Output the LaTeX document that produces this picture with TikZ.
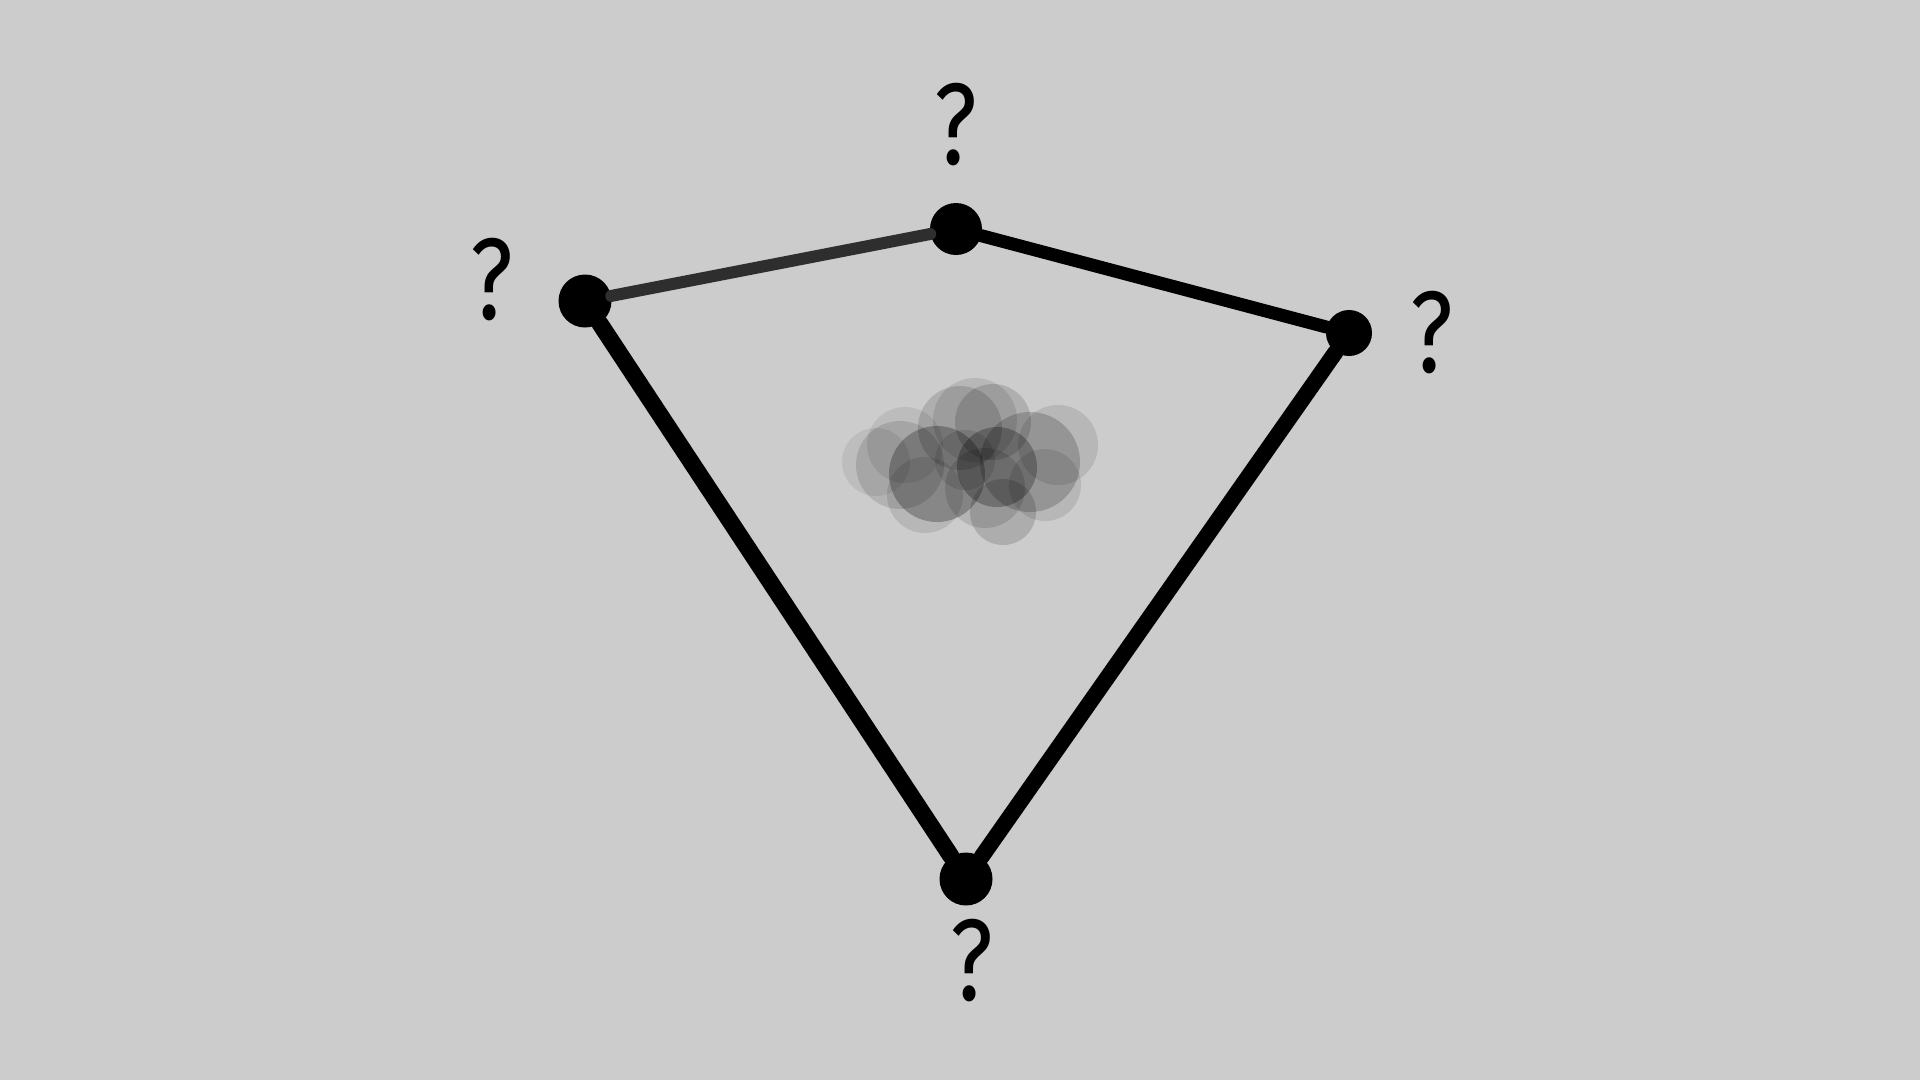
\documentclass[tikz,border=0pt]{standalone}
\usepackage{fontspec}
\usepackage{tikz}
\usetikzlibrary{positioning}
\newfontfamily\qfont{Fira Sans}
\definecolor{bgray}{gray}{0.8}

\begin{document}
\begin{tikzpicture}[x=1pt, y=-1pt,
    corner/.style={circle, fill=black, inner sep=0pt, minimum size=#1},
    qmark/.style={inner sep=0pt, xscale=0.8, font=\qfont\fontsize{116}{116}\selectfont},
    edge/.style={line width=#1, line cap=round}]
    \fill[bgray] (0,0) rectangle (1920,1080);

    % the fuzzy blob in the middle
    \foreach \cx/\cy/\r/\o in {876/462/34/0.07, 905/445/38/0.08, 900/465/44/0.12,
        925/495/38/0.10, 975/420/42/0.10, 960/428/42/0.14, 993/422/38/0.14,
        1058/445/40/0.10, 1045/485/36/0.10, 1030/462/50/0.18, 985/488/40/0.12,
        1003/512/33/0.15, 937/474/48/0.26, 997/467/40/0.26, 965/460/30/0.10}
      \fill[black, fill opacity=\o] (\cx,\cy) circle (\r);

    \node (l) [corner=53pt] at (585,301) {};
    \node (t) [corner=52pt] at (956,229) {};
    \node (r) [corner=46pt] at (1349,333) {};
    \node (b) [corner=53pt] at (966,879) {};

    \draw [edge=12pt, black!82] (l) -- (t);
    \draw [edge=13pt] (t) -- (r);
    \draw [edge=16pt] (r) -- (b);
    \draw [edge=17pt] (b) -- (l);

    \node (ql) [qmark, left=45pt of l, yshift=21pt] {?};
    \node (qt) [qmark, above=37pt of t] {?};
    \node (qr) [qmark, right=38pt of r] {?};
    \node (qb) [qmark, below=13pt of b, xshift=7pt] {?};
\end{tikzpicture}
\end{document}
